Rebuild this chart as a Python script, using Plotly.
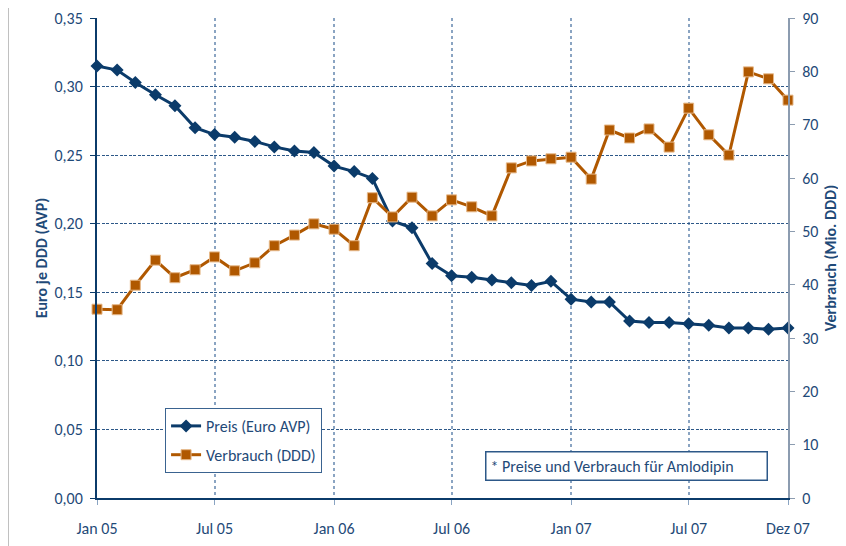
import pandas as pd
import plotly.graph_objects as go

# Monatswerte Jan 2005 - Dez 2007
months = pd.date_range("2005-01-01", "2007-12-01", freq="MS")

preis = [
    0.315, 0.312, 0.303, 0.294, 0.286, 0.270, 0.265, 0.263, 0.260, 0.256, 0.253, 0.252,
    0.242, 0.238, 0.233, 0.202, 0.197, 0.171, 0.162, 0.161, 0.159, 0.157, 0.155, 0.158,
    0.145, 0.143, 0.143, 0.129, 0.128, 0.128, 0.127, 0.126, 0.124, 0.124, 0.123, 0.124,
]
verbrauch = [
    35.4, 35.3, 39.9, 44.6, 41.3, 42.8, 45.2, 42.6, 44.1, 47.3, 49.3, 51.4,
    50.4, 47.3, 56.3, 52.7, 56.4, 52.9, 55.9, 54.6, 52.9, 61.9, 63.2, 63.6,
    63.9, 59.8, 69.0, 67.5, 69.2, 65.8, 73.1, 68.1, 64.3, 79.9, 78.6, 74.6,
]

x_tickvals = ["2005-01-01", "2005-07-01", "2006-01-01", "2006-07-01", "2007-01-01", "2007-07-01", "2007-12-01"]
x_ticktext = ["Jan 05", "Jul 05", "Jan 06", "Jul 06", "Jan 07", "Jul 07", "Dez 07"]
y_left_ticks = [0.0, 0.05, 0.10, 0.15, 0.20, 0.25, 0.30, 0.35]
y_left_text = ["0,00", "0,05", "0,10", "0,15", "0,20", "0,25", "0,30", "0,35"]
y_right_ticks = [0, 10, 20, 30, 40, 50, 60, 70, 80, 90]

NAVY = "#0b3b6a"
BROWN = "#b05800"
TEXT = "#1f4a78"
FONT = "Carlito, Noto Sans, sans-serif"

fig = go.Figure()
fig.add_trace(go.Scatter(
    x=months, y=preis, name="Preis (Euro AVP)", mode="lines+markers", legendgroup="p",
    line=dict(color=NAVY, width=3),
    marker=dict(symbol="diamond", size=10, color=NAVY),
    cliponaxis=False,
))
fig.add_trace(go.Scatter(
    x=months, y=verbrauch, name="Verbrauch (DDD)", mode="lines+markers", yaxis="y2",
    legendgroup="v",
    line=dict(color=BROWN, width=3),
    marker=dict(symbol="square", size=10, color=BROWN, line=dict(color="#e6b888", width=1)),
    cliponaxis=False,
))

# the page body adds 8px, so the figure is 8px smaller than the window
fig.update_layout(
    width=838, height=538,
    margin=dict(l=89, r=58, t=10, b=48),
    paper_bgcolor="white", plot_bgcolor="white",
    font=dict(family=FONT, size=16, color=TEXT),
    showlegend=True,
    legend=dict(
        x=0.0985, y=0.1875, xanchor="left", yanchor="top",
        bordercolor="#3a6390", borderwidth=1, bgcolor="white",
        font=dict(size=16, color=TEXT), itemwidth=30,
        traceorder="grouped", tracegroupgap=5,
    ),
    xaxis=dict(
        range=["2005-01-01", "2007-12-01"],
        tickvals=x_tickvals, ticktext=x_ticktext, automargin=False,
        showgrid=True, gridcolor="#8aa4c2", griddash="3px,3px", gridwidth=1.5,
        showline=True, linecolor=NAVY, linewidth=2,
        ticks="outside", ticklen=5, tickcolor="#8aa4c2", ticklabelstandoff=10,
        tickfont=dict(size=16, color=TEXT),
        zeroline=False,
    ),
    yaxis=dict(
        range=[0, 0.35], tickvals=y_left_ticks, ticktext=y_left_text, automargin=False,
        showgrid=True, gridcolor="#2d5888", griddash="3px,1.5px", gridwidth=1,
        showline=True, linecolor=NAVY, linewidth=2,
        ticks="outside", ticklen=5, tickcolor=NAVY, ticklabelstandoff=4,
        tickfont=dict(size=16, color=TEXT),
        title=dict(text="<b>Euro je DDD (AVP)</b>", font=dict(size=16, color=TEXT), standoff=3),
        zeroline=False,
    ),
    yaxis2=dict(
        range=[0, 90], tickvals=y_right_ticks, overlaying="y", side="right", automargin=False,
        showgrid=False, showline=True, linecolor="#8c9cb0", linewidth=2,
        ticks="outside", ticklen=5, tickcolor="#8c9cb0", ticklabelstandoff=4,
        tickfont=dict(size=16, color=TEXT),
        title=dict(text="<b>Verbrauch (Mio. DDD)</b>", font=dict(size=16, color=TEXT), standoff=7),
        zeroline=False,
    ),
)

fig.add_annotation(
    text="* Preise und Verbrauch für Amlodipin",
    xref="paper", yref="paper", x=0.7656, y=0.0677,
    xanchor="center", yanchor="middle",
    showarrow=False, align="left", width=272,
    font=dict(size=16, color=TEXT),
    bordercolor="#2d5888", borderwidth=1.5, borderpad=4, bgcolor="white",
)

# grauer Rahmen um das Diagramm
fig.add_shape(
    type="rect", xref="paper", yref="paper",
    x0=-0.1288, x1=1.2, y0=-0.3, y1=1.03125,
    line=dict(color="#c0c0c0", width=2), layer="below",
)

fig.write_html("out.html")
